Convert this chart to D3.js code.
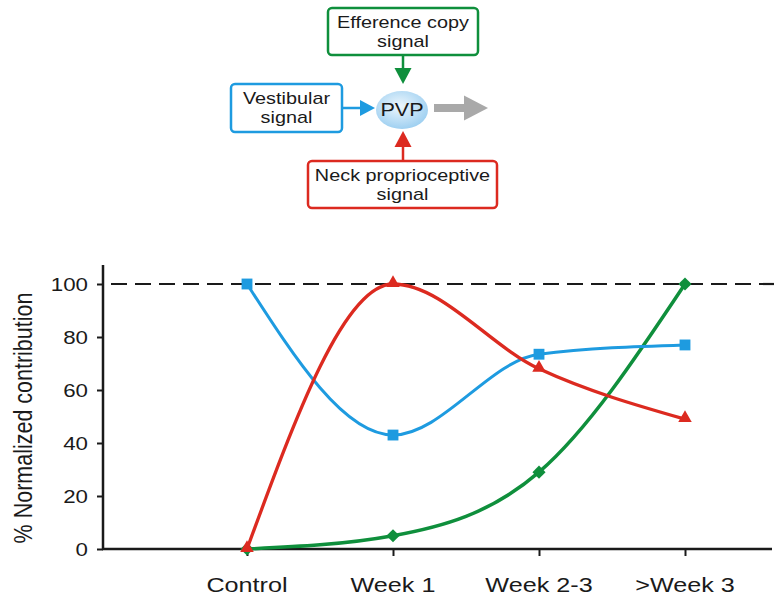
<!DOCTYPE html>
<html><head><meta charset="utf-8">
<script src="https://cdn.jsdelivr.net/npm/d3@7"></script>
<style>body{margin:0;background:#fff}svg{display:block;font-family:"Liberation Sans",Arial,sans-serif}</style>
</head><body><svg id="c" width="774" height="601"></svg>
<script>
const categories = ["Control", "Week 1", "Week 2-3", ">Week 3"];
const vestibular = [100, 43, 73.5, 77];
const neck = [0, 100, 68, 49];
const efference = [0, 5, 29, 100];
const yTicks = [0, 20, 40, 60, 80, 100];
const refLine = 100;

const blue = "#1e9be0", red = "#dc2a20", green = "#0f8f3c", ink = "#1a1a1a";
const svg = d3.select("#c");
const SX = 1.24;

// ---------- diagram ----------
const defs = svg.append("defs");
const rg = defs.append("radialGradient").attr("id","pvp").attr("cx","45%").attr("cy","40%").attr("r","60%");
rg.append("stop").attr("offset","0%").attr("stop-color","#eef7fd");
rg.append("stop").attr("offset","100%").attr("stop-color","#9fd0f1");

function box(x, y, w, h, col, lines, fs) {
  svg.append("rect").attr("x",x).attr("y",y).attr("width",w).attr("height",h)
    .attr("rx",4).attr("fill","#fff").attr("stroke",col).attr("stroke-width",2.5);
  const cx = x + w/2;
  lines.forEach((t,i)=>{
    const ty = y + h/2 + (i - (lines.length-1)/2)*19 + fs*0.36;
    svg.append("text").attr("transform",`translate(${cx},${ty}) scale(${SX},1)`)
      .attr("text-anchor","middle").attr("font-size",fs).attr("fill",ink).text(t);
  });
}
function arrow(x1,y1,x2,y2,col,w,hl,hw){
  const ang = Math.atan2(y2-y1,x2-x1), len = Math.hypot(x2-x1,y2-y1);
  const g = svg.append("g").attr("transform",`translate(${x1},${y1}) rotate(${ang*180/Math.PI})`);
  g.append("line").attr("x1",0).attr("y1",0).attr("x2",len-hl+1).attr("y2",0).attr("stroke",col).attr("stroke-width",w);
  g.append("path").attr("d",`M${len},0L${len-hl},${-hw/2}L${len-hl},${hw/2}Z`).attr("fill",col);
}
box(328, 8, 150, 47, green, ["Efference copy","signal"], 16);
box(231, 84, 111, 48, blue, ["Vestibular","signal"], 16);
box(308, 161, 189, 47, red, ["Neck proprioceptive","signal"], 16);
arrow(403, 55, 403, 84, green, 2.5, 16, 17);
arrow(342, 108, 375, 108, blue, 2.5, 15, 16);
arrow(403, 161, 403, 131, red, 2.5, 16, 17);
svg.append("ellipse").attr("cx",402).attr("cy",110).attr("rx",26).attr("ry",19).attr("fill","url(#pvp)");
svg.append("text").attr("transform",`translate(402,116) scale(1.2,1)`).attr("text-anchor","middle")
  .attr("font-size",18).attr("fill",ink).text("PVP");
arrow(434, 108, 488, 108, "#a9a9a9", 8, 24, 25);

// ---------- chart ----------
const x = d3.scalePoint().domain(categories).range([247, 685]);
const y = d3.scaleLinear().domain([0, 100]).range([549, 284]);
const x0 = 103, xEnd = 772;

svg.append("line").attr("x1",x0).attr("x2",774).attr("y1",y(refLine)).attr("y2",y(refLine))
  .attr("stroke",ink).attr("stroke-width",2.2).attr("stroke-dasharray","16,8").attr("stroke-dashoffset",-8);

const ya = svg.append("g").attr("transform",`translate(${x0},0)`)
  .call(d3.axisLeft(y).tickValues(yTicks).tickSize(6).tickFormat(""));
ya.select(".domain").remove();
ya.selectAll(".tick line").attr("stroke",ink).attr("stroke-width",2);
yTicks.forEach(v=>{
  svg.append("text").attr("transform",`translate(88,${y(v)+6.5}) scale(${SX},1)`)
    .attr("text-anchor","end").attr("font-size",18).attr("fill",ink).text(v);
});
svg.append("line").attr("x1",x0).attr("x2",x0).attr("y1",265).attr("y2",y(0)+1).attr("stroke",ink).attr("stroke-width",2.5);

const xa = svg.append("g").attr("transform",`translate(0,${y(0)})`)
  .call(d3.axisBottom(x).tickSize(7).tickFormat(""));
xa.select(".domain").remove();
xa.selectAll(".tick line").attr("stroke",ink).attr("stroke-width",2);
categories.forEach(c=>{
  svg.append("text").attr("transform",`translate(${x(c)},${592}) scale(1.2,1)`)
    .attr("text-anchor","middle").attr("font-size",21).attr("fill",ink).text(c);
});
svg.append("line").attr("x1",x0-1).attr("x2",xEnd).attr("y1",y(0)).attr("y2",y(0)).attr("stroke",ink).attr("stroke-width",2.5);

svg.append("text").attr("transform",`translate(32,418) rotate(-90) scale(1,1.22)`)
  .attr("text-anchor","middle").attr("font-size",21.5).attr("fill",ink).text("% Normalized contribution");

const line = d3.line().x((d,i)=>x(categories[i])).y(d=>y(d)).curve(d3.curveMonotoneX);
const series = [
  {vals: efference, col: green, w: 3.5, sym: d3.symbolDiamond2, size: 110},
  {vals: vestibular, col: blue, w: 3, sym: d3.symbolSquare2, size: 150},
  {vals: neck, col: red, w: 3.3, sym: d3.symbolTriangle2, size: 130},
];
series.forEach(s=>{
  svg.append("path").attr("d",line(s.vals)).attr("fill","none").attr("stroke",s.col).attr("stroke-width",s.w);
});
series.forEach(s=>{
  s.vals.forEach((v,i)=>{
    const sym = d3.symbol().type(s.sym).size(s.size);
    const dy = s.sym === d3.symbolTriangle2 ? -1 : 0;
    svg.append("path").attr("d",sym()).attr("transform",`translate(${x(categories[i])},${y(v)+dy})`)
      .attr("fill",s.col);
  });
});
</script></body></html>
